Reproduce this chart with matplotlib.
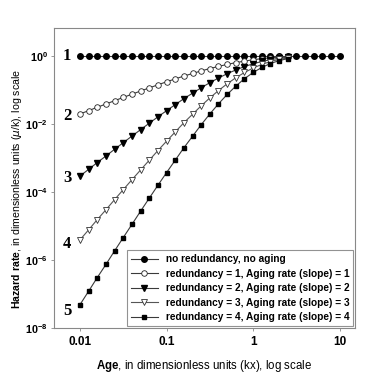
import matplotlib
matplotlib.use('Agg')
import matplotlib.pyplot as plt
import numpy as np

plt.rcParams['font.family'] = ['Liberation Sans', 'DejaVu Sans']
plt.rcParams['mathtext.fontset'] = 'custom'
plt.rcParams['mathtext.rm'] = 'Liberation Sans'
plt.rcParams['mathtext.bf'] = 'Liberation Sans:bold'

## ages, 10 points per decade
age = [0.01, 0.0126, 0.0158, 0.02, 0.0251, 0.0316, 0.0398, 0.0501, 0.0631, 0.0794,
       0.1, 0.126, 0.158, 0.2, 0.251, 0.316, 0.398, 0.501, 0.631, 0.794,
       1.0, 1.26, 1.58, 2.0, 2.51, 3.16, 3.98, 5.01, 6.31, 7.94, 10.0]

h1 = [1.0] * 31
h2 = [0.0197, 0.0247, 0.031, 0.0387, 0.0484, 0.0604, 0.0751, 0.0932, 0.115, 0.142,
      0.174, 0.212, 0.256, 0.306, 0.364, 0.427, 0.494, 0.565, 0.638, 0.708,
      0.775, 0.835, 0.886, 0.927, 0.958]
h3 = [2.94e-4, 4.64e-4, 7.3e-4, 1.15e-3, 1.8e-3, 2.82e-3, 4.39e-3, 6.82e-3, 0.0105, 0.0162,
      0.0246, 0.0371, 0.0552, 0.0809, 0.116, 0.164, 0.225, 0.301, 0.389, 0.488,
      0.59, 0.69, 0.781, 0.858, 0.917]
h4 = [3.9e-6, 7.73e-6, 1.53e-5, 3.02e-5, 5.95e-5, 1.17e-4, 2.29e-4, 4.44e-4, 8.59e-4, 1.65e-3,
      3.12e-3, 5.84e-3, 0.0108, 0.0194, 0.0342, 0.0584, 0.0963, 0.152, 0.229, 0.327,
      0.442, 0.566, 0.686, 0.793, 0.877]
h5 = [4.85e-8, 1.21e-7, 3.01e-7, 7.47e-7, 1.85e-6, 4.55e-6, 1.11e-5, 2.72e-5, 6.56e-5, 1.57e-4,
      3.71e-4, 8.63e-4, 1.97e-3, 4.39e-3, 9.48e-3, 0.0197, 0.0392, 0.0738, 0.13, 0.215,
      0.327, 0.46, 0.6, 0.731, 0.838]

labels = ['no redundancy, no aging',
          'redundancy = 1, Aging rate (slope) = 1',
          'redundancy = 2, Aging rate (slope) = 2',
          'redundancy = 3, Aging rate (slope) = 3',
          'redundancy = 4, Aging rate (slope) = 4']
curve_names = ['1', '2', '3', '4', '5']
name_y = [1.0, 1.7e-2, 2.6e-4, 3.0e-6, 3.2e-8]

fig = plt.figure(figsize=(3.69, 3.73), dpi=100)
ax = fig.add_axes([0.146, 0.1206, 0.816, 0.804])

lc = '#3a3a3a'
ax.plot(age, h1, '-o', color=lc, lw=0.8, ms=4.0, mfc='black', mec='black', label=labels[0])
ax.plot(age[:25], h2, '-o', color=lc, lw=0.8, ms=4.0, mfc='white', mec='#222222', mew=0.6, label=labels[1])
ax.plot(age[:25], h3, '-v', color=lc, lw=0.8, ms=4.0, mfc='black', mec='black', label=labels[2])
ax.plot(age[:25], h4, '-v', color='#555555', lw=0.8, ms=4.0, mfc='white', mec='#333333', mew=0.6, label=labels[3])
ax.plot(age[:25], h5, '-s', color=lc, lw=0.8, ms=3.5, mfc='black', mec='black', label=labels[4])

for name, y in zip(curve_names, name_y):
    ax.text(0.0071, y, name, family='Liberation Serif', fontweight='bold', fontsize=12,
            ha='center', va='center')

ax.set_xscale('log')
ax.set_yscale('log')
ax.set_xlim(0.005, 15)
ax.set_ylim(1e-8, 6.6)

ax.set_xticks([0.01, 0.1, 1, 10])
ax.set_xticklabels(['0.01', '0.1', '1', '10'], fontweight='bold', fontsize=8.5)
ax.set_yticks([1e0, 1e-2, 1e-4, 1e-6, 1e-8])
ax.set_yticklabels([r'$\mathbf{10^{0}}$', r'$\mathbf{10^{-2}}$', r'$\mathbf{10^{-4}}$',
                    r'$\mathbf{10^{-6}}$', r'$\mathbf{10^{-8}}$'], fontsize=7.8)
ax.minorticks_off()
ax.tick_params(direction='out', length=2.5, width=0.6, color='#888888', pad=3)
ax.tick_params(axis='y', pad=2)
for sp in ax.spines.values():
    sp.set_color('#888888')
    sp.set_linewidth(0.8)

ax.set_xlabel(r'$\mathbf{Age}$, in dimensionless units (kx), log scale', fontsize=8.3)
ax.set_ylabel(r'$\mathbf{Hazard\ rate}$, in dimensionless units ($\mu$/k), log scale', fontsize=7.6)
ax.xaxis.set_label_coords(0.5, -0.1)
ax.yaxis.set_label_coords(-0.1, 0.465)

leg = ax.legend(loc='lower right', bbox_to_anchor=(1.0, 0.0), frameon=True,
                fancybox=False, borderaxespad=0.15, handlelength=2.6, labelspacing=0.45,
                prop={'weight': 'bold', 'size': 7.3})
leg.get_frame().set_edgecolor('#777777')
leg.get_frame().set_linewidth(0.8)

fig.savefig('out.png', dpi=100)
